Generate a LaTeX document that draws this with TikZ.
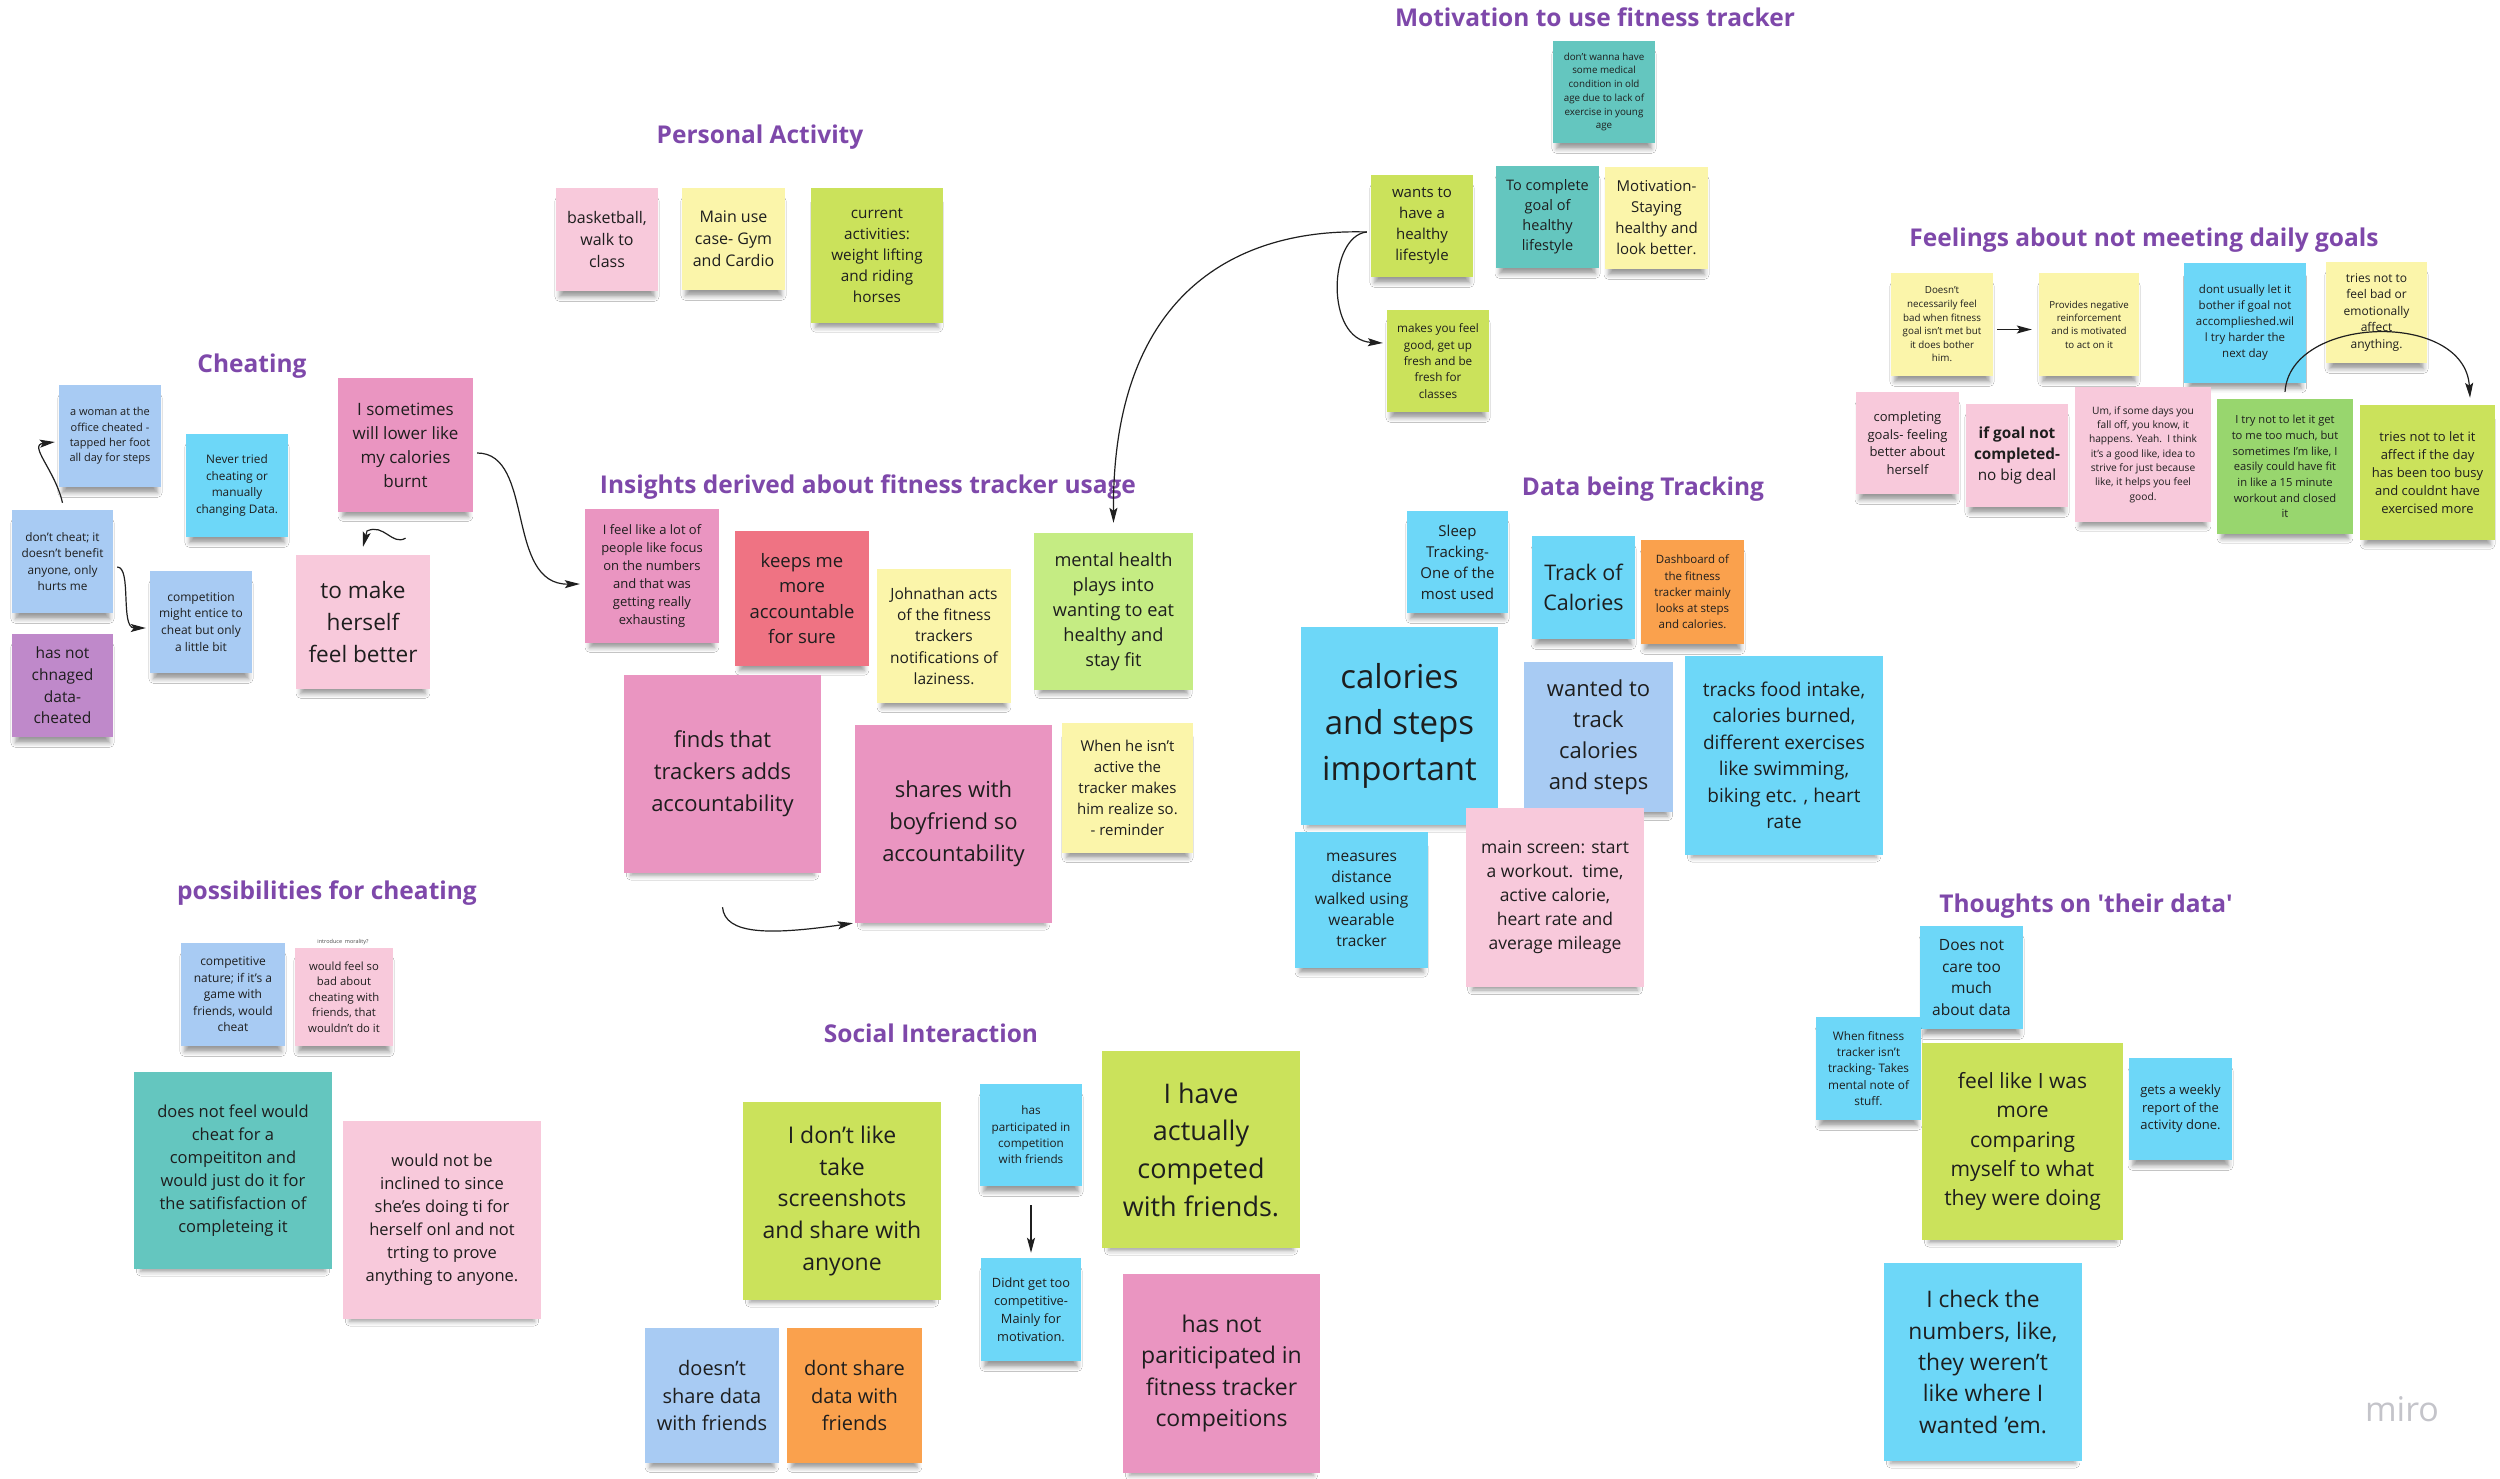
\documentclass[tikz,border=0pt]{standalone}
\usepackage{fontspec}
\setmainfont{Open Sans}
\usetikzlibrary{arrows.meta,shadows.blur}
\definecolor{lblue}{HTML}{A8CBF3}
\definecolor{ncyan}{HTML}{6DD7F8}
\definecolor{npurple}{HTML}{BF89CA}
\definecolor{npink}{HTML}{EA95C1}
\definecolor{nlpink}{HTML}{F8C9DB}
\definecolor{nyellow}{HTML}{FBF5AA}
\definecolor{nyg}{HTML}{CBE25B}
\definecolor{nteal}{HTML}{64C6BF}
\definecolor{nred}{HTML}{EF7383}
\definecolor{nlgreen}{HTML}{C5EC83}
\definecolor{ngreen}{HTML}{98D66E}
\definecolor{norange}{HTML}{FAA14D}
\definecolor{ttl}{HTML}{7E48AA}
\definecolor{txt}{HTML}{1E1E1E}
\definecolor{miroc}{HTML}{C4C4CA}
\newcommand\nfs[2]{\fontsize{#1}{#2}\selectfont}
\begin{document}
\begin{tikzpicture}[x=1pt,y=-1pt,
  note/.style n args={3}{fill=#1, minimum width=#2pt, minimum height=#3pt, inner sep=0pt, align=center, text=txt,
    blur shadow={shadow xshift=0pt, shadow yshift=-10pt, shadow opacity=40, shadow blur radius=5pt, shadow scale=0.93}},
  ttlnode/.style={text=ttl, font=\bfseries\nfs{24.5}{30}, anchor=base, inner sep=0pt},
  arr/.style={draw=black!88, line width=1.2pt, -{Stealth[length=15pt,width=8pt,inset=3pt]}},
]
\useasboundingbox[fill=white] (0,0) rectangle (2500,1479);

% ---------- titles ----------
\node[ttlnode] (T1) at (1595,27) {Motivation to use fitness tracker};
\node[ttlnode] (T2) at (760,144) {Personal Activity};
\node[ttlnode] (T3) at (252,372) {Cheating};
\node[ttlnode] (T4) at (868,493) {Insights derived about fitness tracker usage};
\node[ttlnode] (T5) at (1643,495) {Data being Tracking};
\node[ttlnode] (T6) at (2144,247) {Feelings about not meeting daily goals};
\node[ttlnode] (T7) at (327,899) {possibilities for cheating};
\node[ttlnode] (T8) at (931,1042) {Social Interaction};
\node[ttlnode] (T9) at (2086,912) {Thoughts on \textquotesingle their data\textquotesingle};

% ---------- Cheating ----------
\node[note={lblue}{102}{102}, font=\nfs{11}{15.3}] (N1) at (110,436) {a woman at the\\office cheated -\\tapped her foot\\all day for steps};
\node[note={ncyan}{102}{103}, font=\nfs{11.8}{16.5}] (N2) at (237,485.5) {Never tried\\cheating or\\manually\\changing Data.};
\node[note={lblue}{101}{103}, font=\nfs{11.8}{16.3}] (N3) at (62.5,561.5) {don't cheat; it\\doesn't benefit\\anyone, only\\hurts me};
\node[note={npurple}{101}{103}, font=\nfs{15.5}{21.7}] (N4) at (62.5,685.5) {has not\\chnaged\\data-\\cheated};
\node[note={lblue}{102}{102}, font=\nfs{12}{16.7}] (N5) at (201,622) {competition\\might entice to\\cheat but only\\a little bit};
\node[note={npink}{135}{134}, font=\nfs{17}{24}] (N6) at (405.5,445) {I sometimes\\will lower like\\my calories\\burnt};
\node[note={nlpink}{134}{134}, font=\nfs{22.6}{31.7}] (N7) at (363,622) {to make\\herself\\feel better};

% ---------- Personal activity ----------
\node[note={nlpink}{102}{103}, font=\nfs{16}{22}] (N8) at (607,239.5) {basketball,\\walk to\\class};
\node[note={nyellow}{103}{102}, font=\nfs{16}{22}] (N9) at (733.5,239) {Main use\\case- Gym\\and Cardio};
\node[note={nyg}{132}{135}, font=\nfs{15.3}{21}] (N10) at (877,255.5) {current\\activities:\\weight lifting\\and riding\\horses};

% ---------- Motivation ----------
\node[note={nteal}{102}{102}, font=\nfs{9.8}{13.7}] (N11) at (1604,92) {don't wanna have\\some medical\\condition in old\\age due to lack of\\exercise in young\\age};
\node[note={nyg}{102}{102}, font=\nfs{15}{21}] (N12) at (1422,226) {wants to\\have a\\healthy\\lifestyle};
\node[note={nteal}{103}{102}, font=\nfs{14.5}{20}] (N13) at (1547.5,217) {To complete\\goal of\\healthy\\lifestyle};
\node[note={nyellow}{103}{102}, font=\nfs{15}{21}] (N14) at (1656.5,218) {Motivation-\\Staying\\healthy and\\look better.};
\node[note={nyg}{102}{102}, font=\nfs{11.7}{16.3}] (N15) at (1438,361) {makes you feel\\good, get up\\fresh and be\\fresh for\\classes};

% ---------- Feelings ----------
\node[note={nyellow}{102}{103}, font=\nfs{9.8}{13.6}] (N16) at (1942,324.5) {Doesn't\\necessarily feel\\bad when fitness\\goal isn't met but\\it does bother\\him.};
\node[note={nyellow}{100}{103}, font=\nfs{9.7}{13.3}] (N17) at (2089,324.5) {Provides negative\\reinforcement\\and is motivated\\to act on it};
\node[note={ncyan}{122}{120}, font=\nfs{11.5}{16}] (N18) at (2245,323) {dont usually let it\\bother if goal not\\accomplieshed.wil\\l try harder the\\next day};
\node[note={nyellow}{101}{101}, font=\nfs{12}{16.5}] (N19) at (2376.5,312.5) {tries not to\\feel bad or\\emotionally\\affect\\anything.};
\node[note={nlpink}{103}{102}, font=\nfs{13}{17.7}] (N20) at (1907.5,443) {completing\\goals- feeling\\better about\\herself};
\node[note={nlpink}{102}{103}, font=\nfs{15.3}{21}] (N21) at (2017,455.5) {\textbf{if goal not}\\\textbf{completed-}\\no big deal};
\node[note={nlpink}{136}{135}, font=\nfs{10.2}{14.3}] (N22) at (2143,454.5) {Um, if some days you\\fall off, you know, it\\happens. Yeah.\ \ I think\\it's a good like, idea to\\strive for just because\\like, it helps you feel\\good.};
\node[note={ngreen}{136}{135}, font=\nfs{11.2}{15.7}] (N23) at (2285,466.5) {I try not to let it get\\to me too much, but\\sometimes I'm like, I\\easily could have fit\\in like a 15 minute\\workout and closed\\it};
\node[note={nyg}{135}{135}, font=\nfs{13}{18}] (N24) at (2427.5,472.5) {tries not to let it\\affect if the day\\has been too busy\\and couldnt have\\exercised more};

% ---------- Insights ----------
\node[note={npink}{134}{134}, font=\nfs{13}{17.9}] (N25) at (652,576) {I feel like a lot of\\people like focus\\on the numbers\\and that was\\getting really\\exhausting};
\node[note={nred}{134}{135}, font=\nfs{18.5}{25.3}] (N26) at (802,598.5) {keeps me\\more\\accountable\\for sure};
\node[note={nyellow}{134}{134}, font=\nfs{15.5}{21.3}] (N27) at (944,636) {Johnathan acts\\of the fitness\\trackers\\notifications of\\laziness.};
\node[note={nlgreen}{159}{157}, font=\nfs{18.2}{25}] (N28) at (1113.5,611.5) {mental health\\plays into\\wanting to eat\\healthy and\\stay fit};
\node[note={npink}{197}{198}, font=\nfs{22}{32}] (N29) at (722.5,774) {finds that\\trackers adds\\accountability};
\node[note={npink}{197}{198}, font=\nfs{22}{32}] (N30) at (953.5,824) {shares with\\boyfriend so\\accountability};
\node[note={nyellow}{131}{130}, font=\nfs{15}{21}] (N31) at (1127.5,788) {When he isn't\\active the\\tracker makes\\him realize so.\\- reminder};

% ---------- Data being tracking ----------
\node[note={ncyan}{101}{102}, font=\nfs{15}{21}] (N32) at (1457.5,562) {Sleep\\Tracking-\\One of the\\most used};
\node[note={ncyan}{103}{103}, font=\nfs{21.5}{30.3}] (N33) at (1583.5,587.5) {Track of\\Calories};
\node[note={norange}{103}{104}, font=\nfs{11.5}{16.3}] (N34) at (1692.5,592) {Dashboard of\\the fitness\\tracker mainly\\looks at steps\\and calories.};
\node[note={ncyan}{197}{198}, font=\nfs{33}{45.8}] (N35) at (1399.5,726) {calories\\and steps\\important};
\node[note={lblue}{149}{150}, font=\nfs{22}{31}] (N36) at (1598.5,737) {wanted to\\track\\calories\\and steps};
\node[note={ncyan}{198}{199}, font=\nfs{19}{26.5}] (N37) at (1784,755.5) {tracks food intake,\\calories burned,\\different exercises\\like swimming,\\biking etc. , heart\\rate};
\node[note={ncyan}{133}{136}, font=\nfs{15.5}{21.3}] (N38) at (1361.5,900) {measures\\distance\\walked using\\wearable\\tracker};
\node[note={nlpink}{178}{179}, font=\nfs{17.5}{24}] (N39) at (1555,897.5) {main screen: start\\a workout.\ \ time,\\active calorie,\\heart rate and\\average mileage};

% ---------- possibilities for cheating ----------
\node[note={lblue}{104}{103}, font=\nfs{12}{16.5}] (N40) at (233,994.5) {competitive\\nature; if it's a\\game with\\friends, would\\cheat};
\node[note={nlpink}{98}{98}, font=\nfs{11.3}{15.6}] (N41) at (344,997) {would feel so\\bad about\\cheating with\\friends, that\\wouldn't do it};
\node[font=\nfs{5.5}{7}, text=txt!80, inner sep=0pt] (M41) at (343,942) {introduce\ \ morality?};
\node[note={nteal}{198}{197}, font=\nfs{16.5}{23}] (N42) at (233,1170.5) {does not feel would\\cheat for a\\compeititon and\\would just do it for\\the satifisfaction of\\completeing it};
\node[note={nlpink}{198}{198}, font=\nfs{16.5}{23}] (N43) at (442,1220) {would not be\\inclined to since\\she'es doing ti for\\herself onl and not\\trting to prove\\anything to anyone.};

% ---------- Social interaction ----------
\node[note={nyg}{198}{198}, font=\nfs{23}{31.7}] (N44) at (842,1201) {I don't like\\take\\screenshots\\and share with\\anyone};
\node[note={ncyan}{102}{102}, font=\nfs{11.7}{16.3}] (N45) at (1031,1135) {has\\participated in\\competition\\with friends};
\node[note={ncyan}{100}{103}, font=\nfs{12.8}{18}] (N46) at (1031,1309.5) {Didnt get too\\competitive-\\Mainly for\\motivation.};
\node[note={nyg}{198}{197}, font=\nfs{27}{37.7}] (N47) at (1201,1149.5) {I have\\actually\\competed\\with friends.};
\node[note={lblue}{134}{135}, font=\nfs{20}{27.3}] (N48) at (712,1395.5) {doesn't\\share data\\with friends};
\node[note={norange}{135}{135}, font=\nfs{20}{27.3}] (N49) at (854.5,1395.5) {dont share\\data with\\friends};
\node[note={npink}{197}{199}, font=\nfs{23}{31.3}] (N50) at (1221.5,1373.5) {has not\\pariticipated in\\fitness tracker\\compeitions};

% ---------- Thoughts on their data ----------
\node[note={ncyan}{103}{103}, font=\nfs{15.5}{21.4}] (N51) at (1971.5,977.5) {Does not\\care too\\much\\about data};
\node[note={ncyan}{105}{103}, font=\nfs{11.8}{16.4}] (N52) at (1868.5,1068.5) {When fitness\\tracker isn't\\tracking- Takes\\mental note of\\stuff.};
\node[note={nyg}{201}{197}, font=\nfs{21}{29.4}] (N53) at (2022.5,1141.5) {feel like I was\\more\\comparing\\myself to what\\they were doing};
\node[note={ncyan}{103}{102}, font=\nfs{13}{17.6}] (N54) at (2180.5,1109) {gets a weekly\\report of the\\activity done.};
\node[note={ncyan}{198}{198}, font=\nfs{22.8}{31.3}] (N55) at (1983,1362) {I check the\\numbers, like,\\they weren't\\like where I\\wanted 'em.};

% ---------- logo ----------
\node[anchor=base, text=miroc, font=\nfs{34}{40}, inner sep=0pt] (logo) at (2402,1421) {miro};

% ---------- connectors ----------
\draw[arr] ([yshift=7pt]N3.north) .. controls (55,470) and (28,445) .. ([xshift=-4pt,yshift=-6pt]N1.west);
\draw[arr] ([xshift=4pt,yshift=-5.5pt]N3.east) .. controls (132,567) and (120,628) .. ([xshift=-4pt,yshift=-6pt]N5.west);
\draw[arr] ([xshift=4pt,yshift=-8pt]N6.east) .. controls (535,453) and (505,585) .. ([xshift=-5pt,yshift=-8pt]N25.west);
\draw[arr] ([yshift=-26pt]N6.south) .. controls (392,546) and (384,523) .. (367,531) -- ([yshift=8pt]N7.north);
\draw[arr] ([yshift=-34pt]N29.south) .. controls (725,935) and (770,935) .. ([xshift=-2pt]N30.south west);
\draw[arr] ([xshift=-4pt,yshift=-6pt]N12.west) .. controls (1240,228) and (1112,290) .. ([yshift=10pt]N28.north);
\draw[arr] ([xshift=-4pt,yshift=-6pt]N12.west) .. controls (1328,236) and (1325,340) .. ([xshift=-4pt,yshift=18pt]N15.west);
\draw[arr] ([xshift=4pt,yshift=-5pt]N16.east) -- ([xshift=-7pt,yshift=-5pt]N17.west);
\draw[arr] ([yshift=7pt]N23.north) .. controls (2290,315) and (2465,310) .. ([xshift=42.5pt,yshift=7pt]N24.north);
\draw[arr] ([yshift=-19pt]N45.south) -- ([yshift=5pt]N46.north);
\end{tikzpicture}
\end{document}
